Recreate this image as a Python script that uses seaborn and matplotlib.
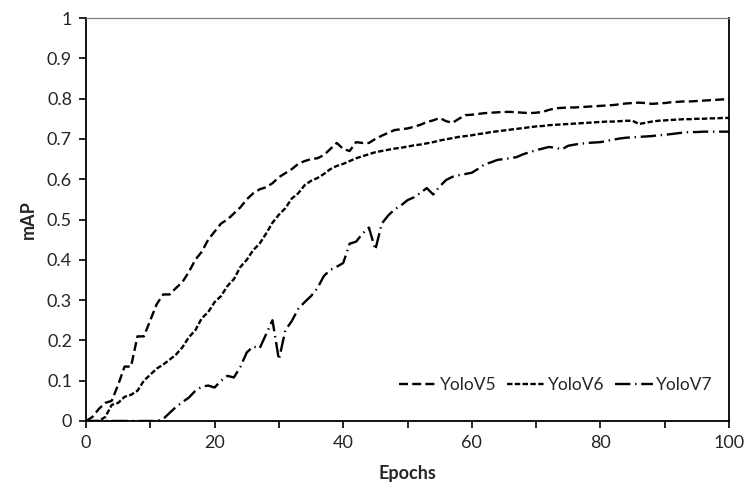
import numpy as np
import pandas as pd
import seaborn as sns
import matplotlib.pyplot as plt
from matplotlib.ticker import MultipleLocator

epochs = list(range(101))

yolov5 = [0.0, 0.01, 0.03, 0.045, 0.05, 0.09, 0.135, 0.135, 0.21, 0.21,
          0.25, 0.29, 0.314, 0.314, 0.33, 0.345, 0.37, 0.40, 0.42, 0.45,
          0.47, 0.49, 0.50, 0.515, 0.53, 0.55, 0.565, 0.575, 0.58, 0.59,
          0.605, 0.615, 0.625, 0.638, 0.645, 0.65, 0.652, 0.66, 0.675, 0.69,
          0.675, 0.67, 0.692, 0.69, 0.69, 0.70, 0.708, 0.715, 0.722, 0.724,
          0.726, 0.73, 0.735, 0.742, 0.746, 0.752, 0.744, 0.74, 0.75, 0.759,
          0.76, 0.762, 0.764, 0.765, 0.766, 0.767, 0.767, 0.766, 0.765, 0.764,
          0.765, 0.767, 0.772, 0.776, 0.777, 0.778, 0.778, 0.779, 0.78, 0.781,
          0.782, 0.783, 0.784, 0.786, 0.788, 0.789, 0.79, 0.789, 0.787, 0.788,
          0.789, 0.791, 0.792, 0.793, 0.793, 0.794, 0.795, 0.796, 0.797, 0.798,
          0.799]

yolov6 = [0.0, 0.0, 0.0, 0.01, 0.04, 0.045, 0.06, 0.065, 0.075, 0.10,
          0.115, 0.13, 0.14, 0.152, 0.165, 0.183, 0.208, 0.225, 0.255, 0.27,
          0.295, 0.31, 0.335, 0.352, 0.382, 0.40, 0.424, 0.44, 0.465, 0.492,
          0.512, 0.528, 0.552, 0.565, 0.585, 0.596, 0.603, 0.613, 0.625, 0.633,
          0.638, 0.645, 0.652, 0.657, 0.662, 0.667, 0.67, 0.673, 0.676, 0.678,
          0.681, 0.684, 0.686, 0.689, 0.692, 0.696, 0.699, 0.702, 0.705, 0.707,
          0.709, 0.712, 0.714, 0.717, 0.719, 0.721, 0.723, 0.725, 0.727, 0.729,
          0.731, 0.732, 0.734, 0.735, 0.736, 0.737, 0.738, 0.739, 0.74, 0.741,
          0.742, 0.743, 0.743, 0.744, 0.745, 0.745, 0.737, 0.74, 0.743, 0.745,
          0.746, 0.747, 0.748, 0.749, 0.749, 0.75, 0.75, 0.751, 0.751, 0.752,
          0.752]

yolov7 = [0.0, 0.0, 0.0, 0.0, 0.0, 0.0, 0.0, 0.0, 0.0, 0.0,
          0.0, 0.0, 0.005, 0.02, 0.035, 0.047, 0.058, 0.075, 0.085, 0.088,
          0.083, 0.10, 0.112, 0.108, 0.134, 0.17, 0.185, 0.18, 0.215, 0.25,
          0.152, 0.225, 0.248, 0.278, 0.295, 0.31, 0.33, 0.36, 0.375, 0.383,
          0.392, 0.44, 0.445, 0.465, 0.48, 0.425, 0.49, 0.51, 0.525, 0.535,
          0.548, 0.555, 0.566, 0.578, 0.562, 0.582, 0.598, 0.606, 0.61, 0.613,
          0.616, 0.626, 0.637, 0.642, 0.648, 0.65, 0.652, 0.655, 0.662, 0.667,
          0.672, 0.676, 0.68, 0.678, 0.674, 0.683, 0.686, 0.688, 0.69, 0.691,
          0.692, 0.695, 0.698, 0.701, 0.703, 0.704, 0.705, 0.706, 0.707, 0.709,
          0.71, 0.712, 0.714, 0.716, 0.717, 0.717, 0.718, 0.718, 0.718, 0.718,
          0.718]

models = ['YoloV5', 'YoloV6', 'YoloV7']

df = pd.concat([pd.DataFrame({'Epochs': epochs, 'mAP': vals, 'model': name})
                for name, vals in zip(models, [yolov5, yolov6, yolov7])])

sns.set_style('white')
plt.rcParams['font.family'] = ['Lato', 'DejaVu Sans']

fig = plt.figure(figsize=(7.46, 4.91), dpi=100)
ax = fig.add_axes([0.1153, 0.1426, 0.8619, 0.8207])

dashes = {'YoloV5': (3.8, 1.8), 'YoloV6': (2.3, 1.0), 'YoloV7': (6.5, 2.0, 0.6, 2.0)}
sns.lineplot(data=df, x='Epochs', y='mAP', hue='model', style='model',
             palette={m: 'black' for m in models}, dashes=dashes,
             estimator=None, linewidth=1.7, ax=ax)

ax.set_xlim(0, 100)
ax.set_ylim(0, 1)
ax.xaxis.set_major_locator(MultipleLocator(20))
ax.xaxis.set_minor_locator(MultipleLocator(10))
ax.set_yticks(np.arange(0, 1.01, 0.1))
ax.set_yticklabels([f'{v:g}' for v in np.round(np.arange(0, 1.01, 0.1), 1)])
ax.tick_params(axis='both', which='both', direction='out', length=5, width=1.2,
               color='black', labelsize=13, bottom=True, left=True)
ax.tick_params(axis='both', which='major', pad=5)

for side in ['left', 'bottom', 'right']:
    ax.spines[side].set_color('black')
    ax.spines[side].set_linewidth(1.3)
ax.spines['top'].set_color('#808080')
ax.spines['top'].set_linewidth(0.9)

ax.set_xlabel('Epochs', fontsize=13, fontweight='bold', labelpad=10)
ax.set_ylabel('mAP', fontsize=13, fontweight='bold', labelpad=7)

ax.legend(loc='lower right', bbox_to_anchor=(0.998, 0.03), ncol=3, frameon=False,
          fontsize=12.5, handlelength=2.2, handletextpad=0.15, columnspacing=0.6)

fig.savefig('out.png', dpi=100)
